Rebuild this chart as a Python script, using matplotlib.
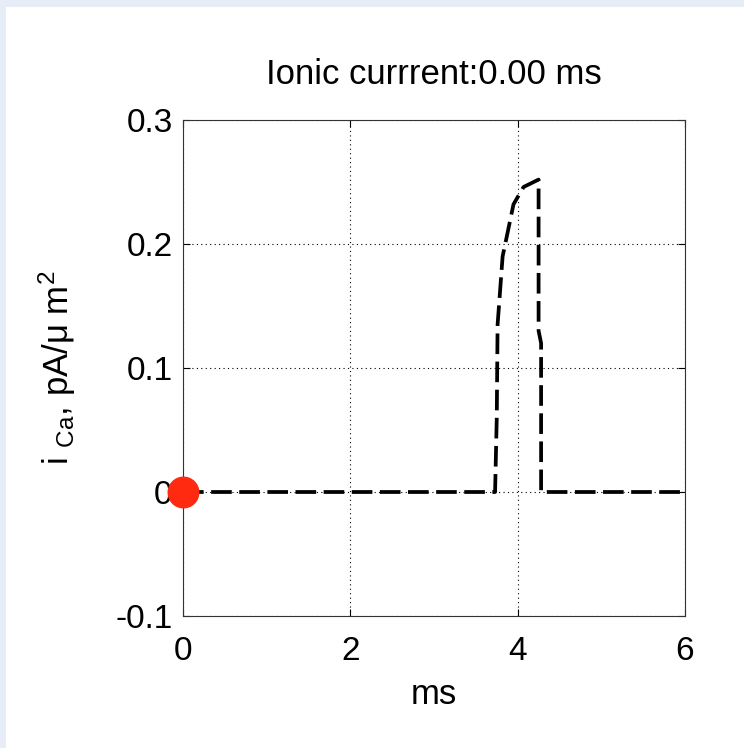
import matplotlib
matplotlib.use("Agg")
import matplotlib.pyplot as plt
from matplotlib.patches import Rectangle

plt.rcParams['font.family'] = ['Liberation Sans', 'DejaVu Sans']
plt.rcParams['mathtext.default'] = 'regular'

# calcium current trace
t_ms = [0.0, 3.73, 3.75, 3.76, 3.82, 3.95, 4.07, 4.25, 4.25, 4.28, 4.28, 6.0]
i_ca = [0.0, 0.0, 0.06, 0.135, 0.19, 0.232, 0.246, 0.252, 0.13, 0.12, 0.0, 0.0]
marker_t = [0.0]
marker_i = [0.0]
xticks = [0, 2, 4, 6]
yticks = [-0.1, 0, 0.1, 0.2, 0.3]
yticklabels = ["-0.1", "0", "0.1", "0.2", "0.3"]

fig = plt.figure(figsize=(7.44, 7.48), dpi=100)
fig.patch.set_facecolor("#e7edf7")
fig.patches.append(Rectangle((6 / 744, 0), 1, 1 - 7 / 748, transform=fig.transFigure,
                             facecolor="white", edgecolor="none", zorder=-10))

ax = fig.add_axes([0.246, 0.1765, 0.6747, 0.663])
ax.set_zorder(5)
ax.plot(t_ms, i_ca, color="black", lw=2.7, dashes=(5.5, 2.0), zorder=3)
ax.plot(marker_t, marker_i, "o", color="#ff2a10", ms=22, clip_on=False, zorder=4)

ax.set_xlim(0, 6)
ax.set_ylim(-0.1, 0.3)
ax.set_xticks(xticks)
ax.set_yticks(yticks)
ax.set_yticklabels(yticklabels)
ax.grid(True, color="black", linestyle=(0, (1, 3)), linewidth=0.8)
ax.tick_params(direction="in", length=5, width=0.8, labelsize=24,
               top=True, right=True)
ax.tick_params(axis="x", pad=14.5)
ax.tick_params(axis="y", pad=7.5)
for s in ax.spines.values():
    s.set_linewidth(0.8)
    s.set_color("#333333")

ax.set_title("Ionic currrent:0.00 ms", fontsize=25, pad=26)
ax.set_xlabel("ms", fontsize=25, labelpad=8)
ax.set_ylabel(r"i $_{Ca}$, pA/$\mu$ m$^2$", fontsize=25, labelpad=27)

fig.savefig("out.png", dpi=100, facecolor=fig.get_facecolor())
